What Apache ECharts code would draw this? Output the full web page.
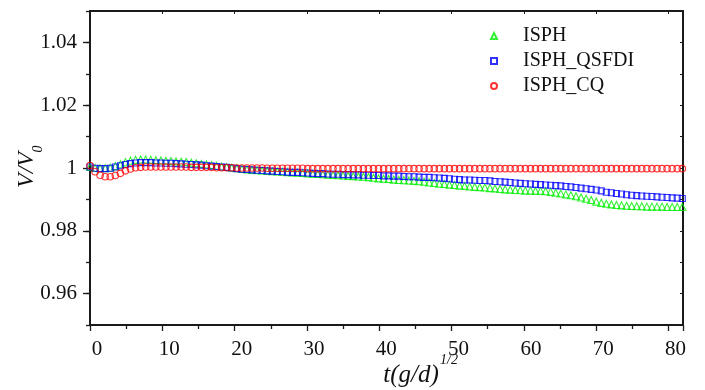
<!DOCTYPE html>
<html>
<head>
<meta charset="utf-8">
<script src="https://cdn.jsdelivr.net/npm/echarts@6/dist/echarts.min.js"></script>
<style>
html,body{margin:0;padding:0;background:#fff;}
#chart{width:705px;height:390px;}
</style>
</head>
<body>
<div id="chart"></div>
<script>
// Sample times t(g/d)^(1/2)
var tValues = [0,0.7,1.4,2.1,2.8,3.5,4.2,4.9,5.6,6.3,7,7.7,8.4,9.1,9.8,10.5,11.2,11.9,12.6,13.3,14,14.7,15.4,16.1,16.8,17.5,18.2,18.9,19.6,20.3,21,21.7,22.4,23.1,23.8,24.5,25.2,25.9,26.6,27.3,28,28.7,29.4,30.1,30.8,31.5,32.2,32.9,33.6,34.3,35,35.7,36.4,37.1,37.8,38.5,39.2,39.9,40.6,41.3,42,42.7,43.4,44.1,44.8,45.5,46.2,46.9,47.6,48.3,49,49.7,50.4,51.1,51.8,52.5,53.2,53.9,54.6,55.3,56,56.7,57.4,58.1,58.8,59.5,60.2,60.9,61.6,62.3,63,63.7,64.4,65.1,65.8,66.5,67.2,67.9,68.6,69.3,70,70.7,71.4,72.1,72.8,73.5,74.2,74.9,75.6,76.3,77,77.7,78.4,79.1,79.8,80.5,81.2,81.9];

var isph = [1.0003,1.0000,0.9999,0.9999,1.0001,1.0006,1.0012,1.0018,1.0023,1.0026,
1.0027,1.0027,1.0026,1.0025,1.0024,1.0023,1.0022,1.0021,1.0020,1.0019,
1.0017,1.0015,1.0013,1.0011,1.0009,1.0007,1.0005,1.0003,1.0001,0.9999,
0.9997,0.9995,0.9994,0.9993,0.9992,0.9991,0.9990,0.9989,0.9988,0.9987,
0.9986,0.9985,0.9984,0.9983,0.9982,0.9981,0.9980,0.9979,0.9978,0.9977,
0.9976,0.9975,0.9974,0.9973,0.9972,0.9971,0.9969,0.9967,0.9966,0.9965,
0.9963,0.9962,0.9961,0.9960,0.9959,0.9958,0.9956,0.9954,0.9952,0.9950,
0.9949,0.9947,0.9946,0.9944,0.9943,0.9941,0.9940,0.9939,0.9938,0.9936,
0.9935,0.9933,0.9932,0.9931,0.9930,0.9929,0.9928,0.9928,0.9927,0.9927,
0.9926,0.9924,0.9921,0.9919,0.9916,0.9913,0.9910,0.9906,0.9902,0.9898,
0.9893,0.9889,0.9886,0.9884,0.9882,0.9881,0.9880,0.9879,0.9878,0.9878,
0.9877,0.9877,0.9877,0.9877,0.9876,0.9876,0.9876,0.9876];

var isphQsfdi = [1.0003,0.9999,0.9998,0.9998,0.9999,1.0003,1.0007,1.0011,1.0014,1.0016,
1.0017,1.0017,1.0017,1.0016,1.0016,1.0015,1.0015,1.0014,1.0013,1.0012,
1.0011,1.0010,1.0009,1.0007,1.0006,1.0005,1.0003,1.0002,1.0000,0.9998,
0.9996,0.9995,0.9994,0.9993,0.9992,0.9991,0.9990,0.9989,0.9988,0.9987,
0.9986,0.9986,0.9985,0.9984,0.9983,0.9982,0.9982,0.9981,0.9980,0.9980,
0.9979,0.9979,0.9978,0.9978,0.9977,0.9977,0.9976,0.9976,0.9975,0.9975,
0.9974,0.9974,0.9973,0.9972,0.9972,0.9971,0.9970,0.9970,0.9969,0.9968,
0.9967,0.9966,0.9964,0.9963,0.9962,0.9962,0.9961,0.9960,0.9960,0.9959,
0.9957,0.9956,0.9955,0.9954,0.9952,0.9951,0.9950,0.9949,0.9948,0.9947,
0.9946,0.9945,0.9944,0.9943,0.9941,0.9940,0.9938,0.9936,0.9934,0.9932,
0.9930,0.9927,0.9923,0.9921,0.9919,0.9917,0.9915,0.9913,0.9912,0.9911,
0.9910,0.9909,0.9908,0.9907,0.9906,0.9905,0.9904,0.9903];

var isphCq = [1.0008,0.9988,0.9977,0.9972,0.9972,0.9976,0.9983,0.9991,0.9997,1.0001,
1.0002,1.0003,1.0003,1.0003,1.0003,1.0003,1.0003,1.0003,1.0003,1.0003,
1.0002,1.0002,1.0002,1.0002,1.0002,1.0001,1.0001,1.0001,1.0001,1.0000,
1.0000,1.0000,1.0000,1.0000,1.0000,0.9999,0.9999,0.9999,0.9999,0.9999,
0.9999,0.9999,0.9999,0.9998,0.9998,0.9998,0.9998,0.9998,0.9998,0.9998,
0.9998,0.9998,0.9998,0.9998,0.9998,0.9998,0.9998,0.9998,0.9998,0.9998,
0.9998,0.9998,0.9998,0.9998,0.9998,0.9998,0.9998,0.9998,0.9998,0.9998,
0.9998,0.9998,0.9998,0.9998,0.9998,0.9998,0.9998,0.9998,0.9998,0.9998,
0.9998,0.9998,0.9998,0.9998,0.9998,0.9998,0.9998,0.9998,0.9998,0.9998,
0.9998,0.9998,0.9998,0.9998,0.9998,0.9998,0.9998,0.9998,0.9998,0.9998,
0.9998,0.9998,0.9998,0.9998,0.9998,0.9998,0.9998,0.9998,0.9998,0.9998,
0.9998,0.9998,0.9998,0.9998,0.9998,0.9998,0.9998,0.9998];

var seriesNames = ['ISPH', 'ISPH_QSFDI', 'ISPH_CQ'];
var yLabelValues = [0.96, 0.98, 1, 1.02, 1.04];

function pairs(ys) {
  return tValues.map(function (t, i) { return [t, ys[i]]; });
}

var FONT = '"Liberation Serif", "Times New Roman", serif';
var AX = '#1a1a1a';

var chart = echarts.init(document.getElementById('chart'), null, {renderer: 'canvas'});

function mk(name, data, symbol, color, size) {
  return {
    name: name,
    type: 'scatter',
    xAxisIndex: 0,
    yAxisIndex: 0,
    data: data,
    symbol: symbol,
    symbolSize: size,
    itemStyle: {color: 'rgba(0,0,0,0)', borderColor: color, borderWidth: 1.1},
    emphasis: {disabled: true},
    animation: false
  };
}

chart.setOption({
  animation: false,
  backgroundColor: '#fff',
  grid: {left: 90, right: 22, top: 11, bottom: 65},
  legend: {
    orient: 'vertical',
    left: 485,
    top: 21,
    itemWidth: 6,
    itemHeight: 6,
    itemGap: 5,
    textStyle: {fontFamily: FONT, fontSize: 20, color: '#111', padding: [0, 0, 0, 21]},
    data: [
      {name: 'ISPH', icon: 'triangle'},
      {name: 'ISPH_QSFDI', icon: 'rect'},
      {name: 'ISPH_CQ', icon: 'circle'}
    ],
    selectedMode: false
  },
  xAxis: [
    {
      type: 'value', position: 'bottom', min: 0, max: 82, interval: 10,
      axisLine: {show: true, onZero: false, lineStyle: {color: AX, width: 2}},
      axisTick: {show: true, inside: false, length: 6, lineStyle: {color: AX, width: 1.3}},
      minorTick: {show: true, splitNumber: 2, length: 4, lineStyle: {color: AX, width: 1.3}},
      axisLabel: {fontFamily: FONT, fontSize: 21, color: '#111', margin: 14, padding: [0, 0, 0, 14]},
      splitLine: {show: false}
    },
    {
      type: 'value', position: 'top', min: 0, max: 82, interval: 10,
      axisLine: {show: true, onZero: false, lineStyle: {color: AX, width: 2}},
      axisTick: {show: true, inside: true, length: 3, lineStyle: {color: AX, width: 1}},
      axisLabel: {show: false},
      splitLine: {show: false}
    }
  ],
  yAxis: [
    {
      type: 'value', position: 'left', min: 0.95, max: 1.05, interval: 0.01,
      axisLine: {show: true, onZero: false, lineStyle: {color: AX, width: 2}},
      axisTick: {show: true, inside: false, length: 4, lineStyle: {color: AX, width: 1.3}},
      axisLabel: {show: false},
      splitLine: {show: false}
    },
    {
      type: 'value', position: 'left', min: 0.95, max: 1.05,
      axisLine: {show: false},
      axisTick: {show: true, inside: false, length: 7, customValues: yLabelValues, lineStyle: {color: AX, width: 1.3}},
      axisLabel: {show: true, customValues: yLabelValues, fontFamily: FONT, fontSize: 21, color: '#111', margin: 13},
      splitLine: {show: false}
    },
    {
      type: 'value', position: 'right', min: 0.95, max: 1.05, interval: 0.01,
      axisLine: {show: true, onZero: false, lineStyle: {color: AX, width: 2}},
      axisTick: {show: true, inside: true, length: 3, lineStyle: {color: AX, width: 1}},
      axisLabel: {show: false},
      splitLine: {show: false}
    }
  ],
  graphic: [
    {
      type: 'text', x: 27, y: 170, rotation: Math.PI / 2,
      style: {text: 'V/V', fontFamily: FONT, fontStyle: 'italic', fontSize: 24, fill: '#111', align: 'center', verticalAlign: 'middle'}
    },
    {
      type: 'text', x: 38, y: 149, rotation: Math.PI / 2,
      style: {text: '0', fontFamily: FONT, fontStyle: 'italic', fontSize: 14, fill: '#111', align: 'center', verticalAlign: 'middle'}
    },
    {
      type: 'text', x: 411, y: 375,
      style: {text: 't(g/d)', fontFamily: FONT, fontStyle: 'italic', fontSize: 25, fill: '#111', align: 'center', verticalAlign: 'middle'}
    },
    {
      type: 'text', x: 449, y: 360,
      style: {text: '1/2', fontFamily: FONT, fontStyle: 'italic', fontSize: 14, fill: '#111', align: 'center', verticalAlign: 'middle'}
    }
  ],
  series: [
    mk(seriesNames[0], pairs(isph), 'triangle', '#00ee00', 7),
    mk(seriesNames[1], pairs(isphQsfdi), 'rect', '#0000ff', 6),
    mk(seriesNames[2], pairs(isphCq), 'circle', '#ff0000', 6.5)
  ]
});
</script>
</body>
</html>
